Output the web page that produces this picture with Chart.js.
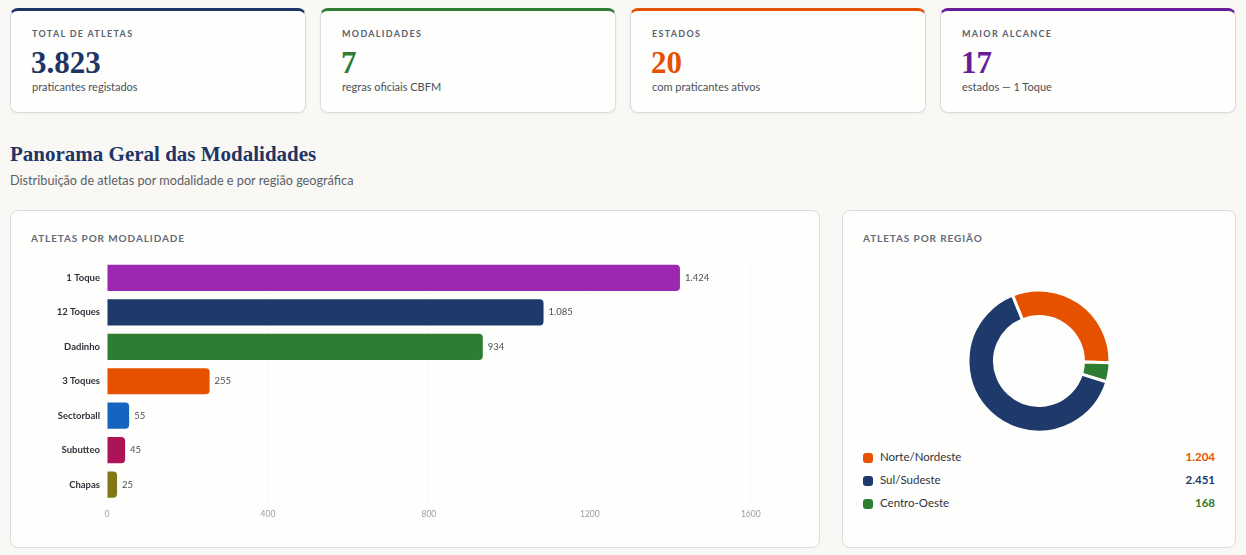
<!DOCTYPE html>
<html lang="pt-BR">
<head>
<meta charset="utf-8">
<title>Panorama Geral das Modalidades</title>
<script src="https://cdn.jsdelivr.net/npm/chart.js@4.4.1/dist/chart.umd.min.js"></script>
<style>
    * { box-sizing: border-box; margin: 0; padding: 0; }
    body {
        width: 1246px; height: 555px; overflow: hidden;
        background: #f9f8f4;
        font-family: Lato, "Noto Sans", sans-serif;
        position: relative;
    }
    .card {
        position: absolute; top: 8px; width: 296px; height: 105px;
        background: #fefefd; border: 1px solid #d9dce3; border-top: 3px solid;
        border-radius: 8px; box-shadow: 0 1px 3px rgba(0,0,0,0.05);
    }
    .card .lbl {
        position: absolute; left: 21px; top: 17px;
        font-size: 9px; font-weight: 700; letter-spacing: 1.3px; color: #5b6270;
    }
    .card .num {
        position: absolute; left: 20px; top: 34px;
        font-family: "Liberation Serif", "DejaVu Serif", serif; font-weight: 700;
        font-size: 31px; line-height: 36px;
    }
    .card .sub {
        position: absolute; left: 21px; top: 69px;
        font-size: 11px; color: #4a4f58;
    }
    h2 {
        position: absolute; left: 10px; top: 142px;
        font-family: "Liberation Serif", "DejaVu Serif", serif; font-weight: 700;
        font-size: 21px; color: #1e3566;
    }
    .intro { position: absolute; left: 10px; top: 172px; font-size: 12.7px; color: #5b6068; }
    .panel {
        position: absolute; top: 210px; height: 338px;
        background: #fefefd; border: 1px solid #d9dce3; border-radius: 8px;
    }
    .panel .head {
        position: absolute; left: 20px; top: 21px;
        font-size: 10px; font-weight: 700; letter-spacing: 0.9px; color: #646b78;
    }
    #barBox { position: absolute; left: 20px; top: 37px; width: 760px; height: 278px; }
    #donutBox { position: absolute; left: 0; top: 75px; width: 392px; height: 150px; }
    .leg { position: absolute; left: 20px; right: 20px; height: 16px; font-size: 11.5px; color: #2f333a; }
    .leg .dot { position: absolute; left: 0; top: 3px; width: 10px; height: 10px; border-radius: 3px; }
    .leg .nome { position: absolute; left: 17px; top: 0; }
    .leg .val { position: absolute; right: 0; top: 0; font-weight: 700; }
</style>
</head>
<body>

<div id="cards"></div>

<h2>Panorama Geral das Modalidades</h2>
<div class="intro">Distribuição de atletas por modalidade e por região geográfica</div>

<div class="panel" style="left:10px; width:810px;">
    <div class="head">ATLETAS POR MODALIDADE</div>
    <div id="barBox"><canvas id="barChart"></canvas></div>
</div>

<div class="panel" style="left:842px; width:394px;">
    <div class="head">ATLETAS POR REGIÃO</div>
    <div id="donutBox"><canvas id="donutChart"></canvas></div>
    <div id="legenda"></div>
</div>

<script>
// Cartões de resumo
const cardTitulos = ['TOTAL DE ATLETAS', 'MODALIDADES', 'ESTADOS', 'MAIOR ALCANCE'];
const cardNumeros = ['3.823', '7', '20', '17'];
const cardTextos = ['praticantes registados', 'regras oficiais CBFM', 'com praticantes ativos', 'estados — 1 Toque'];
const cardCores = ['#1e3566', '#2e7d32', '#e65100', '#6a1b9a'];

// Atletas por modalidade
const modalidades = ['1 Toque', '12 Toques', 'Dadinho', '3 Toques', 'Sectorball', 'Subutteo', 'Chapas'];
const atletasModalidade = [1424, 1085, 934, 255, 55, 45, 25];
const coresModalidade = ['#9c27b0', '#1e3a6b', '#2e7d32', '#e65100', '#1565c0', '#ad1457', '#827717'];
const ticksX = [0, 400, 800, 1200, 1600];

// Atletas por região
const regioes = ['Norte/Nordeste', 'Sul/Sudeste', 'Centro-Oeste'];
const atletasRegiao = [1204, 2451, 168];
const coresRegiao = ['#e65100', '#1e3a6b', '#2e7d32'];
const ordemAnel = [0, 2, 1]; // ordem dos segmentos no anel (sentido horário)

function fmt(v) {
    return String(v).replace(/\B(?=(\d{3})+(?!\d))/g, '.');
}

document.addEventListener('DOMContentLoaded', function () {
    buildCards();
    buildLegend();
    initBarChart();
    initDonutChart();
});

function buildCards() {
    const box = document.getElementById('cards');
    box.innerHTML = cardTitulos.map((t, i) => `
        <div class="card" style="left:${10 + i * 310}px; border-top-color:${cardCores[i]}">
            <div class="lbl">${t}</div>
            <div class="num" style="color:${cardCores[i]}">${cardNumeros[i]}</div>
            <div class="sub">${cardTextos[i]}</div>
        </div>
    `).join('');
}

function buildLegend() {
    const box = document.getElementById('legenda');
    box.innerHTML = regioes.map((r, i) => `
        <div class="leg" style="top:${239 + i * 23}px">
            <span class="dot" style="background:${coresRegiao[i]}"></span>
            <span class="nome">${r}</span>
            <span class="val" style="color:${coresRegiao[i]}">${fmt(atletasRegiao[i])}</span>
        </div>
    `).join('');
}

// rótulos de valor à direita das barras
const valorBarras = {
    id: 'valorBarras',
    afterDatasetsDraw(chart) {
        const ctx = chart.ctx;
        const meta = chart.getDatasetMeta(0);
        ctx.save();
        ctx.font = '9.5px Lato, sans-serif';
        ctx.fillStyle = '#4a4f58';
        ctx.textAlign = 'left';
        ctx.textBaseline = 'middle';
        meta.data.forEach((bar, i) => {
            ctx.fillText(fmt(atletasModalidade[i]), bar.x + 5, bar.y);
        });
        ctx.restore();
    }
};

function initBarChart() {
    const ctx = document.getElementById('barChart').getContext('2d');
    new Chart(ctx, {
        type: 'bar',
        data: {
            labels: modalidades,
            datasets: [{
                data: atletasModalidade,
                backgroundColor: coresModalidade,
                borderRadius: 4,
                borderSkipped: 'start',
                barPercentage: 0.76,
                categoryPercentage: 1
            }]
        },
        options: {
            indexAxis: 'y',
            responsive: true,
            maintainAspectRatio: false,
            animation: false,
            plugins: { legend: { display: false }, tooltip: { enabled: false } },
            scales: {
                x: {
                    min: 0,
                    max: 1700,
                    afterBuildTicks: (scale) => { scale.ticks = ticksX.map(v => ({ value: v })); },
                    border: { display: false, dash: [1, 3] },
                    grid: { color: 'rgba(0,0,0,0.09)', drawTicks: false },
                    ticks: {
                        color: '#9a9ea6', font: { family: 'Lato', size: 8.5 }, padding: 7,
                        callback: (v) => String(v)
                    }
                },
                y: {
                    afterFit: (scale) => { scale.width = 76; },
                    border: { display: false },
                    grid: { display: false, drawTicks: false },
                    ticks: { color: '#2f333a', font: { family: 'Lato', size: 9.5, weight: 'bold' }, padding: 7 }
                }
            }
        },
        plugins: [valorBarras]
    });
}

function initDonutChart() {
    const ctx = document.getElementById('donutChart').getContext('2d');
    new Chart(ctx, {
        type: 'doughnut',
        data: {
            labels: ordemAnel.map(i => regioes[i]),
            datasets: [{
                data: ordemAnel.map(i => atletasRegiao[i]),
                backgroundColor: ordemAnel.map(i => coresRegiao[i]),
                borderColor: '#fefefd',
                borderWidth: 3,
                radius: 71,
                cutout: 46
            }]
        },
        options: {
            responsive: true,
            maintainAspectRatio: false,
            animation: false,
            rotation: -22,
            plugins: { legend: { display: false }, tooltip: { enabled: false } }
        }
    });
}
</script>
</body>
</html>
